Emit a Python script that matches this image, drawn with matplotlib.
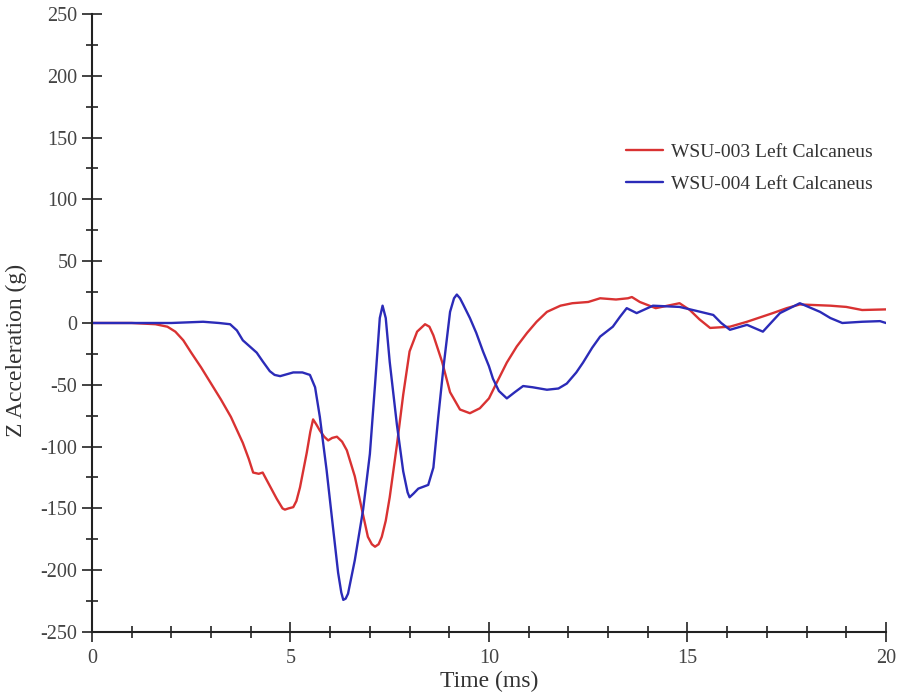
import matplotlib
matplotlib.use("Agg")
import matplotlib.pyplot as plt
from matplotlib.ticker import MultipleLocator

# WSU-003 left calcaneus, Z acceleration (g) vs time (ms)
t_003 = [0, 0.5, 1.0, 1.6, 1.9, 2.1, 2.3, 2.5, 2.75, 3.0, 3.25, 3.5, 3.8, 3.95,
         4.06, 4.2, 4.3, 4.4, 4.5, 4.65, 4.8, 4.86, 4.95, 5.07, 5.15, 5.24,
         5.41, 5.5, 5.57, 5.65, 5.74, 5.85, 5.95, 6.05, 6.17, 6.3, 6.42, 6.62,
         6.8, 6.95, 7.05, 7.13, 7.22, 7.3, 7.4, 7.5, 7.68, 7.84, 8.0, 8.19,
         8.39, 8.5, 8.6, 8.82, 9.02, 9.27, 9.52, 9.77, 10.0, 10.2, 10.45, 10.7,
         10.96, 11.2, 11.46, 11.8, 12.1, 12.5, 12.8, 13.2, 13.5, 13.6, 13.8,
         14.2, 14.5, 14.8, 15.06, 15.3, 15.57, 16.07, 16.5, 17.15, 17.5, 17.83,
         18.6, 19.0, 19.4, 20]
a_003 = [0, 0, 0, -1, -3, -7, -14, -24, -36, -49, -62, -76, -97, -110,
         -121, -122, -121, -127, -133, -142, -150, -151, -150, -149, -144, -133,
         -105, -88, -78, -82, -87, -92, -95, -93, -92, -96, -103, -124,
         -151, -173, -179, -181, -179, -173, -160, -141, -99, -58, -23, -7,
         -1, -3, -10, -31.5, -56, -70, -73, -69, -61, -48, -32, -19,
         -8, 1, 9, 14, 16, 17, 20, 19, 20, 21, 17,
         12, 14, 16, 10.5, 3, -4, -3, 1, 8, 12, 15,
         14, 13, 10.5, 11]

# WSU-004 left calcaneus, Z acceleration (g) vs time (ms)
t_004 = [0, 1, 2, 2.8, 3.2, 3.48, 3.65, 3.8, 4.15, 4.3, 4.48, 4.6, 4.74, 5.07,
         5.3, 5.49, 5.62, 5.74, 5.91, 6.07, 6.2, 6.28, 6.33, 6.39, 6.45, 6.62,
         6.83, 7.0, 7.13, 7.25, 7.32, 7.4, 7.5, 7.68, 7.84, 7.95, 8.0, 8.1,
         8.22, 8.47, 8.6, 8.72, 8.85, 9.02, 9.12, 9.19, 9.27, 9.35, 9.52, 9.68,
         9.85, 10.0, 10.1, 10.25, 10.45, 10.65, 10.86, 11.1, 11.46, 11.75,
         11.96, 12.2, 12.37, 12.6, 12.8, 13.12, 13.3, 13.47, 13.72, 14.13,
         14.8, 15.2, 15.65, 15.85, 16.07, 16.5, 16.9, 17.1, 17.33, 17.83,
         18.34, 18.6, 18.9, 19.4, 19.85, 20]
a_004 = [0, 0, 0, 1, 0, -1, -6, -14, -24, -31, -39, -42, -43, -40,
         -40, -42, -52, -76, -119, -165, -202, -218, -224, -223, -219, -192,
         -151, -106, -50, 4, 14, 4, -31.5, -82, -120, -137, -141, -138,
         -134, -131, -117, -77, -37, 9, 20, 23, 20, 15, 4, -8,
         -23, -35, -45, -55, -61, -56, -51, -52, -54, -53,
         -49, -40, -32, -20, -11, -3, 5, 12, 8, 14,
         13, 10, 6.5, 0, -5.5, -1.5, -7, 0, 8, 16,
         9, 4, 0, 1, 1.5, 0]

series_labels = ["WSU-003 Left Calcaneus", "WSU-004 Left Calcaneus"]

plt.rcParams['font.family'] = ['Liberation Serif', 'DejaVu Serif']
plt.rcParams['axes.unicode_minus'] = False

fig = plt.figure(figsize=(8.99, 6.92), dpi=100)
ax = fig.add_axes([0.1023, 0.0867, 0.8832, 0.8931])

line_kw = dict(lw=1.7, solid_joinstyle='round', solid_capstyle='round')
ax.plot(t_003, a_003, color='#d93232', label=series_labels[0], **line_kw)
ax.plot(t_004, a_004, color='#2b2bb8', label=series_labels[1], **line_kw)

ax.set_xlim(0, 20)
ax.set_ylim(-250, 250)
ax.xaxis.set_major_locator(MultipleLocator(5))
ax.xaxis.set_minor_locator(MultipleLocator(1))
ax.yaxis.set_major_locator(MultipleLocator(50))
ax.yaxis.set_minor_locator(MultipleLocator(25))

for s in ['top', 'right']:
    ax.spines[s].set_visible(False)
for s in ['left', 'bottom']:
    ax.spines[s].set_linewidth(1.5)
    ax.spines[s].set_color('#222222')

ax.tick_params(which='major', direction='inout', length=15, width=1.2,
               colors='#222222', labelcolor='#444444', labelsize=14.5, pad=3)
ax.tick_params(axis='x', which='major', pad=5)
ax.tick_params(which='minor', direction='inout', length=8, width=1.2,
               colors='#222222')

ax.set_xlabel("Time (ms)", fontsize=17, color='#333333', labelpad=2)
ax.set_ylabel("Z Acceleration (g)", fontsize=17, color='#333333')
ax.yaxis.set_label_coords(-0.082, 0.455)

leg = ax.legend(loc='upper left', bbox_to_anchor=(0.677, 0.818),
                bbox_transform=fig.transFigure, frameon=False, fontsize=14,
                handlelength=1.9, handletextpad=0.4, labelspacing=0.75,
                labelcolor='#333333')

fig.savefig("out.png", dpi=100, facecolor='white')
